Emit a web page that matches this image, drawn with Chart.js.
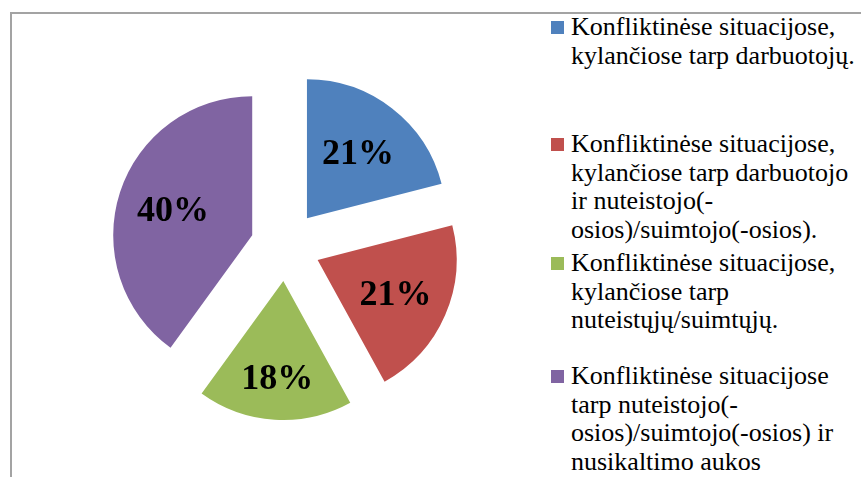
<!DOCTYPE html>
<html>
<head>
<meta charset="utf-8">
<script src="https://cdn.jsdelivr.net/npm/chart.js@4/dist/chart.umd.min.js"></script>
<style>
  html,body{margin:0;padding:0;background:#fff;overflow:hidden;}
  body{width:861px;height:477px;position:relative;font-family:"Liberation Serif","Times New Roman",serif;}
  #frame{position:absolute;left:10px;top:12px;width:900px;height:520px;border-left:2px solid #a3a3a3;border-top:2px solid #a3a3a3;}
  #pie{position:absolute;left:100px;top:60px;}
  .item{position:absolute;left:551px;font-size:26px;line-height:28.5px;color:#000;white-space:nowrap;}
  .item .sw{position:absolute;left:0;top:8px;width:13px;height:13px;}
  .item .tx{position:absolute;left:20px;}
</style>
</head>
<body>
<div id="frame"></div>
<canvas id="pie" width="371" height="372"></canvas>
<div id="legend"></div>
<script>
// data
const labels = [
  ['Konfliktinėse situacijose,', 'kylančiose tarp darbuotojų.'],
  ['Konfliktinėse situacijose,', 'kylančiose tarp darbuotojo', 'ir nuteistojo(-', 'osios)/suimtojo(-osios).'],
  ['Konfliktinėse situacijose,', 'kylančiose tarp', 'nuteistųjų/suimtųjų.'],
  ['Konfliktinėse situacijose', 'tarp nuteistojo(-', 'osios)/suimtojo(-osios) ir', 'nusikaltimo aukos']
];
const values = [21, 21, 18, 40];
const pctLabels = ['21%', '21%', '18%', '40%'];

// styling / layout
const colors = ['#4F81BD', '#C0504D', '#9BBB59', '#8064A2'];
const legendTops = [13, 130, 249, 362];
const labelRatio = [0.6, 0.61, 0.7, 0.6];
const explodeDist = 35;

// legend (html so the lines wrap like the original)
const legend = document.getElementById('legend');
labels.forEach((lines,i)=>{
  const d = document.createElement('div');
  d.className = 'item';
  d.style.top = legendTops[i] + 'px';
  const sw = document.createElement('div');
  sw.className = 'sw';
  sw.style.background = colors[i];
  const tx = document.createElement('div');
  tx.className = 'tx';
  tx.innerHTML = lines.join('<br>');
  d.appendChild(sw);
  d.appendChild(tx);
  legend.appendChild(d);
});

// pulls every slice out along its middle angle, then writes the percentages
const explodePlugin = {
  id: 'explode',
  beforeDatasetDraw(){ return false; },
  afterDatasetsDraw(chart){
    const ctx = chart.ctx;
    const meta = chart.getDatasetMeta(0);
    meta.data.forEach(arc=>{
      const mid = (arc.startAngle + arc.endAngle) / 2;
      ctx.save();
      ctx.translate(Math.cos(mid) * explodeDist, Math.sin(mid) * explodeDist);
      arc.draw(ctx, chart.chartArea);
      ctx.restore();
    });
    ctx.save();
    ctx.font = 'bold 36px "Liberation Serif", "Times New Roman", serif';
    ctx.fillStyle = '#000';
    ctx.textAlign = 'center';
    ctx.textBaseline = 'middle';
    meta.data.forEach((arc,i)=>{
      const mid = (arc.startAngle + arc.endAngle) / 2;
      const r = explodeDist + labelRatio[i] * arc.outerRadius;
      ctx.fillText(pctLabels[i], arc.x + Math.cos(mid) * r, arc.y + Math.sin(mid) * r + 2);
    });
    ctx.restore();
  }
};

new Chart(document.getElementById('pie'), {
  type: 'pie',
  data: {
    labels: labels.map(l=>l.join(' ')),
    datasets: [{ data: values, backgroundColor: colors, borderWidth: 0 }]
  },
  options: {
    responsive: false,
    animation: false,
    radius: 139,
    layout: { padding: 0 },
    plugins: { legend: { display: false }, tooltip: { enabled: false } }
  },
  plugins: [explodePlugin]
});
</script>
</body>
</html>
